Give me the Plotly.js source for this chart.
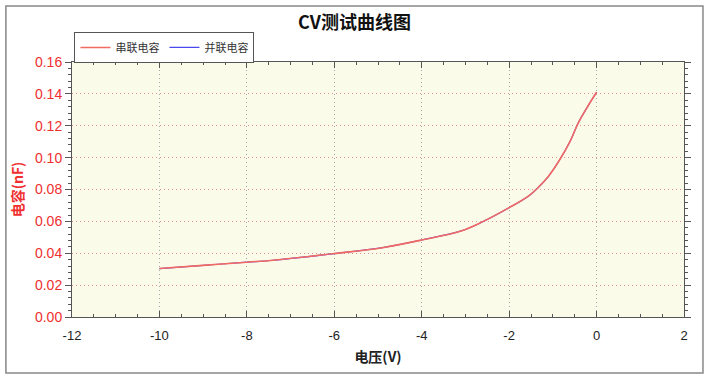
<!DOCTYPE html>
<html><head><meta charset="utf-8">
<script src="https://cdn.plot.ly/plotly-3.0.1.min.js"></script>
<style>html,body{margin:0;padding:0;background:#fff}</style>
</head><body>
<div id="chart" style="width:709px;height:380px"></div>
<script>
var voltage = [-10, -9, -8, -7.4, -6, -4.9, -4, -3.1, -2.65, -2, -1.56, -1.33, -1.1, -0.84, -0.61, -0.42, -0.19, 0];
var seriesCap = [0.0304, 0.0324, 0.0344, 0.0356, 0.0398, 0.0435, 0.0483, 0.054, 0.0592, 0.0686, 0.0758, 0.0814, 0.0883, 0.0988, 0.110, 0.1217, 0.1327, 0.141];
var parallelCap = [0.0304, 0.0324, 0.0344, 0.0356, 0.0398, 0.0435, 0.0483, 0.054, 0.0592, 0.0686, 0.0758, 0.0814, 0.0883, 0.0988, 0.110, 0.1217, 0.1327, 0.141];
var seriesNames = ['串联电容', '并联电容'];
var xTickVals = [-12, -10, -8, -6, -4, -2, 0, 2];
var xTickText = ['-12', '-10', '-8', '-6', '-4', '-2', '0', '2'];

var cjk = '"Noto Sans CJK SC", "Liberation Sans", sans-serif';
var data = [
  {x: voltage, y: parallelCap, name: seriesNames[1], mode: 'lines', line: {color: '#4848ee', width: 1.2, shape: 'spline', smoothing: 1}},
  {x: voltage, y: seriesCap, name: seriesNames[0], mode: 'lines', line: {color: '#f26a62', width: 1.6, shape: 'spline', smoothing: 1}}
];
var layout = {
  width: 709, height: 380,
  margin: {l: 72, r: 25, t: 62, b: 63},
  paper_bgcolor: '#ffffff',
  plot_bgcolor: '#fbfbea',
  font: {family: '"Liberation Sans", Arial, sans-serif', size: 12, color: '#222'},
  title: {text: '<b>CV测试曲线图</b>', font: {family: cjk, size: 18, color: '#111'}, x: 0.5, xanchor: 'center', y: 0.94, yanchor: 'middle'},
  showlegend: true,
  legend: {orientation: 'h', x: 0.004, xanchor: 'left', y: 1.057, yanchor: 'middle', traceorder: 'reversed',
    bgcolor: '#ffffff', bordercolor: '#555', borderwidth: 1, font: {family: cjk, size: 11, color: '#333'}},
  xaxis: {range: [-12, 2], tickmode: 'array', tickvals: xTickVals, ticktext: xTickText,
    showgrid: true, gridcolor: '#a8a8a8', griddash: '1px,3px', gridwidth: 1,
    zeroline: false, showline: true, linecolor: '#555', mirror: 'ticks', ticks: 'inside', ticklen: 6, tickcolor: '#555',
    minor: {dtick: 0.5, tick0: -12, ticks: 'inside', ticklen: 3, tickcolor: '#555', showgrid: false},
    tickfont: {size: 13, color: '#222'}, ticklabelstandoff: 6,
    title: {text: '<b>电压(V)</b>', font: {family: cjk, size: 14, color: '#222'}, standoff: 10}},
  yaxis: {range: [0, 0.16], dtick: 0.02, tickformat: '.2f', showgrid: true, gridcolor: '#f09090', griddash: '1px,3px', gridwidth: 1,
    zeroline: false, showline: true, linecolor: '#555', mirror: 'ticks', ticks: 'outside', ticklen: 6, tickcolor: '#555',
    minor: {dtick: 0.004, ticks: 'outside', ticklen: 3, tickcolor: '#555', showgrid: false},
    tickfont: {size: 14, color: '#f03030'},
    title: {text: '<b>电容(nF)</b>', font: {family: cjk, size: 14, color: '#f03030'}, standoff: 8}},
  shapes: [{type: 'rect', xref: 'paper', yref: 'paper', x0: -0.108, x1: 1.031, y0: -0.22, y1: 1.22,
    line: {color: '#888', width: 1.5}, fillcolor: 'rgba(0,0,0,0)', layer: 'below'}]
};
Plotly.newPlot('chart', data, layout, {staticPlot: true, displayModeBar: false});
</script>
</body></html>
